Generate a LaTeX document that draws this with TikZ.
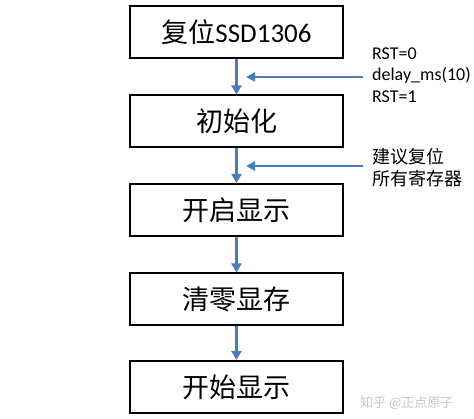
\documentclass[tikz,border=0pt]{standalone}
\usepackage{fontspec}
\setmainfont{Carlito}
\newfontfamily\cjk{Noto Sans CJK SC}
\usetikzlibrary{arrows.meta}
\definecolor{arrowblue}{HTML}{4A7EBB}
\tikzset{
  stepbox/.style={draw=black, line width=2pt, minimum width=213pt, minimum height=52pt, inner sep=0pt, font=\fontsize{27}{30}\selectfont},
  flowarrow/.style={draw=arrowblue, line width=2.8pt, -{Triangle[length=9pt,width=10pt]}},
  sidearrow/.style={draw=arrowblue, line width=2.2pt, -{Triangle[length=9pt,width=9pt]}},
  note/.style={anchor=west, align=left, inner sep=0pt, font=\fontsize{18}{21.5}\selectfont},
}
\begin{document}
\begin{tikzpicture}[x=1pt,y=1pt]
\useasboundingbox (0,0) rectangle (474,-419);
\fill[white] (0,0) rectangle (474,-419);
\node[stepbox] (b1) at (236.5,-32.5) {{\cjk 复位}SSD1306};
\node[stepbox] (b2) at (236.5,-121.5) {\cjk 初始化};
\node[stepbox] (b3) at (236.5,-210) {\cjk 开启显示};
\node[stepbox] (b4) at (236.5,-299.5) {\cjk 清零显存};
\node[stepbox] (b5) at (236.5,-387) {\cjk 开始显示};
\draw[flowarrow] (b1.south) -- (b2.north);
\draw[flowarrow] (b2.south) -- (b3.north);
\draw[flowarrow] (b3.south) -- (b4.north);
\draw[flowarrow] (b4.south) -- (b5.north);
\coordinate (s1) at (363,-77);
\coordinate (t1) at (246,-77);
\coordinate (s2) at (363,-166);
\coordinate (t2) at (246,-166);
\draw[sidearrow] (s1) -- (t1);
\draw[sidearrow] (s2) -- (t2);
\node[note] (n1) at (372,-75) {RST=0\\delay\_ms(10)\\RST=1};
\node[note, font=\cjk\fontsize{18}{21.5}\selectfont] (n2) at (372,-167.5) {建议复位\\所有寄存器};
\node[anchor=west, inner sep=0pt, text=black!22, font=\cjk\fontsize{13}{15}\selectfont] (wm) at (360,-403) {知乎 @正点原子};
\end{tikzpicture}
\end{document}
